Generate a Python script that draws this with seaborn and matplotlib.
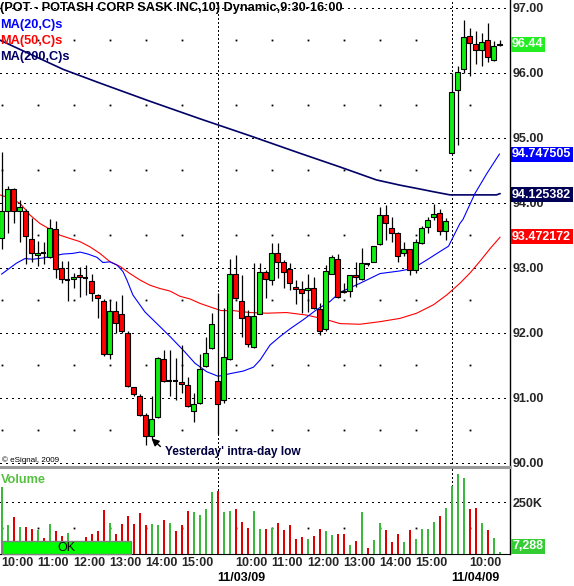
import numpy as np
import pandas as pd
import matplotlib
matplotlib.use("Agg")
import matplotlib.pyplot as plt
import matplotlib.transforms as mtransforms
from matplotlib.patches import Rectangle
from matplotlib.lines import Line2D
import seaborn as sns

# ---------------- data (10-minute bars) ----------------
opens = [93.45, 93.87, 94.21, 93.87, 93.87, 93.44, 93.19, 93.23, 93.16, 93.59,
         92.99, 92.81, 92.82, 92.88, 92.84, 92.80, 92.58, 92.49, 91.67, 92.33,
         92.29, 91.99, 91.16, 91.03, 90.73, 90.41, 90.70, 91.59, 91.25, 91.25,
         91.24, 91.20, 90.80, 90.92, 91.49, 91.76,
         91.25, 90.96, 91.59, 92.90, 92.49, 92.26, 91.78, 92.29, 92.94, 92.81,
         93.23, 93.08, 92.98, 92.70, 92.67, 92.65, 92.68, 92.36, 92.05, 92.91,
         93.14, 92.64, 92.64, 92.89, 92.82, 93.05, 93.09, 93.36, 93.81, 93.61,
         93.53, 93.22, 93.28, 92.96, 93.38, 93.62, 93.78, 93.84, 93.57,
         94.76, 95.73, 96.06, 96.57, 96.44, 96.35, 96.50, 96.19, 96.43]
highs = [94.78, 94.26, 94.22, 94.04, 93.90, 93.77, 93.41, 93.40, 93.75, 93.72,
         93.10, 93.11, 92.92, 93.01, 93.04, 92.91, 92.59, 92.52, 92.50, 92.49,
         92.58, 92.02, 91.17, 91.05, 90.77, 91.03, 91.62, 91.74, 91.74, 91.61,
         91.81, 91.32, 91.08, 91.67, 91.93, 92.30,
         92.61, 92.38, 93.14, 93.20, 92.89, 92.35, 93.07, 93.07, 92.96, 93.38,
         93.38, 93.12, 93.07, 92.81, 92.79, 92.90, 92.85, 92.45, 93.04, 93.20,
         93.21, 92.76, 92.89, 93.09, 93.31, 93.07, 93.34, 93.93, 93.96, 93.78,
         93.55, 93.40, 93.29, 93.44, 93.64, 93.78, 93.98, 93.90, 93.76,
         96.00, 96.10, 96.81, 96.69, 96.64, 96.61, 96.77, 96.48, 96.51]
lows = [93.28, 93.54, 93.69, 93.40, 93.05, 93.09, 93.03, 93.05, 93.15, 92.84,
        92.76, 92.49, 92.69, 92.55, 92.58, 92.49, 92.22, 91.64, 91.59, 92.00,
        91.99, 91.17, 91.02, 90.72, 90.28, 90.36, 90.69, 91.24, 91.02, 90.96,
        91.07, 90.86, 90.62, 90.91, 91.48, 91.75,
        90.44, 90.92, 91.58, 92.52, 91.94, 91.78, 91.77, 92.28, 92.53, 92.73,
        92.84, 92.68, 92.65, 92.44, 92.30, 92.32, 92.37, 91.96, 92.02, 92.90,
        92.54, 92.61, 92.55, 92.71, 92.81, 93.03, 93.08, 93.35, 93.42, 93.40,
        93.08, 93.18, 92.89, 92.92, 93.37, 93.53, 93.74, 93.50, 93.43,
        94.75, 94.88, 95.99, 95.95, 96.13, 96.10, 96.17, 96.18, 96.41]
closes = [93.87, 94.21, 93.87, 93.93, 93.48, 93.22, 93.22, 93.23, 93.61, 92.98,
          92.82, 92.81, 92.85, 92.85, 92.84, 92.61, 92.53, 91.68, 92.33, 92.15,
          92.02, 91.18, 91.05, 90.74, 90.41, 90.68, 91.61, 91.25, 91.25, 91.25,
          91.21, 90.87, 90.91, 91.44, 91.69, 92.13,
          90.91, 91.63, 92.90, 92.53, 92.22, 91.82, 92.25, 92.94, 92.82, 93.23,
          93.09, 92.94, 92.76, 92.67, 92.61, 92.68, 92.38, 92.02, 92.95, 93.16,
          92.55, 92.62, 92.88, 92.85, 93.07, 93.05, 93.33, 93.81, 93.68, 93.54,
          93.18, 93.28, 92.96, 93.40, 93.61, 93.73, 93.83, 93.57, 93.72,
          95.71, 96.01, 96.55, 96.46, 96.35, 96.47, 96.24, 96.41, 96.44]

volume_k = [324, 139, 179, 131, 131, 120, 115, 78, 144, 112,
            87, 103, 50, 55, 80, 96, 112, 212, 151, 96,
            144, 183, 144, 196, 139, 144, 139, 163, 151, 112,
            139, 207, 204, 188, 216, 300,
            304, 204, 208, 216, 155, 123, 208, 120, 120, 127,
            151, 115, 139, 72, 80, 72, 87, 120, 110, 91,
            96, 96, 43, 63, 204, 30, 67, 151, 115, 59,
            96, 59, 115, 72, 120, 120, 155, 183, 220,
            327, 385, 364, 216, 220, 151, 115, 75, 7.288]
volume_dir = ("ggrgrrgrgrrggrrrrrgrrrrrrggrgrrrgggg"
              "rggrrrggrgrrrrrgrrggrrgrgrggrrrgrggggrg"
              "gggrrgrgg")

# moving averages read at sample bars (bar index, value)
ma20_bar = [0.0, 2.5, 3.9, 5.25, 6.9, 8.6, 10.25, 11.9, 13.1, 14.4, 15.9, 16.9,
            18.1, 19.25, 20.25, 20.9, 21.9, 23.9, 25.9, 28.1, 30.3, 32.25, 34.2,
            36.1, 38.1, 40.3, 42.0, 43.1, 44.75, 46.4, 48.1, 50.3, 52.6, 54.75,
            56.4, 59.75, 63.1, 66.4, 68.6, 70.9, 73.1, 74.5, 76.4, 76.9, 78.9,
            80.9, 83.0]
ma20_val = [92.90, 93.07, 93.14, 93.13, 93.15, 93.18, 93.21, 93.22, 93.24, 93.21,
            93.16, 93.08, 93.09, 93.04, 92.94, 92.81, 92.58, 92.32, 92.14, 91.94,
            91.73, 91.53, 91.40, 91.33, 91.37, 91.41, 91.47, 91.58, 91.81, 91.94,
            92.06, 92.20, 92.36, 92.48, 92.62, 92.76, 92.91, 92.95, 92.99, 93.12,
            93.25, 93.33, 93.68, 93.74, 94.14, 94.45, 94.75]
ma50_bar = [-0.25, 1.4, 3.1, 4.75, 6.4, 8.1, 9.75, 11.4, 13.1, 14.75, 16.4, 18.1,
            19.75, 21.4, 23.1, 24.75, 26.4, 28.1, 29.75, 31.4, 33.1, 35.3, 36.6,
            38.6, 41.4, 44.2, 47.5, 50.9, 54.2, 56.4, 59.75, 63.1, 66.4, 69.2,
            72.0, 74.2, 76.4, 78.1, 79.75, 81.4, 83.1]
ma50_val = [94.12, 94.07, 93.99, 93.81, 93.68, 93.59, 93.50, 93.45, 93.40, 93.32,
            93.22, 93.09, 93.02, 92.91, 92.81, 92.73, 92.68, 92.64, 92.56, 92.52,
            92.45, 92.38, 92.34, 92.34, 92.31, 92.30, 92.31, 92.27, 92.20, 92.14,
            92.13, 92.17, 92.22, 92.30, 92.43, 92.58, 92.76, 92.92, 93.10, 93.29,
            93.47]
ma200_bar = [-0.25, 10.3, 16.4, 24.75, 33.1, 41.4, 49.75, 56.4, 62.5, 66.4,
             69.75, 71.9, 74.75, 82.5, 83.1]
ma200_val = [96.50, 96.05, 95.84, 95.56, 95.29, 95.03, 94.76, 94.55, 94.35, 94.27,
             94.21, 94.17, 94.12, 94.12, 94.14]

last_values = {"close": 96.44, "ma20": 94.747505, "ma200": 94.125382, "ma50": 93.472172}

price_ticks = [90, 91, 92, 93, 94, 95, 96, 97]
half_ticks = [90.5, 91.5, 92.5, 93.5, 94.5, 95.5, 96.5]
vol_ticks = [250]
time_tick_bars = [0, 6, 12, 18, 24, 30, 39, 45, 51, 57, 63, 69, 78]
time_tick_labels = ["10:00", "11:00", "12:00", "13:00", "14:00", "15:00",
                    "10:00", "11:00", "12:00", "13:00", "14:00", "15:00", "10:00"]
day_start_bars = [36, 75]
date_labels = ["11/03/09", "11/04/09"]

# ---------------- style ----------------
sns.set_style("white")
plt.rcParams["font.family"] = ["Liberation Sans", "DejaVu Sans"]
plt.rcParams["lines.scale_dashes"] = False

W, H = 574, 586
fig = plt.figure(figsize=(W / 100, H / 100), dpi=100)
fig.patch.set_facecolor("white")

def fx(px):
    return px / W

def fy(py):
    return 1 - py / H

axp = fig.add_axes([0, fy(467), fx(510), 467 / H])
axv = fig.add_axes([0, fy(554), fx(510), 85 / H])

n = len(opens)
x = np.arange(n)
df = pd.DataFrame({"x": x, "open": opens, "high": highs, "low": lows,
                   "close": closes, "vol": volume_k, "dir": list(volume_dir)})

GREEN = "#11EE11"
RED = "#FF0000"
DOT_H = (0, (1.1, 3.2))   # ~1.5 px on, ~4.5 px off (6 px period)
DOT_V = (0, (1.1, 1.8))   # ~4 px period

for ax in (axp, axv):
    ax.set_facecolor("white")
    ax.set_xlim(-0.25, 84.75)
    for s in ("top", "left", "bottom"):
        ax.spines[s].set_visible(False)
    ax.spines["right"].set_color("black")
    ax.spines["right"].set_linewidth(1.0)
    ax.yaxis.tick_right()
    ax.grid(False)

axp.set_ylim(89.934, 97.118)
axv.set_ylim(0, 408.7)
axv.spines["bottom"].set_visible(True)
axv.spines["bottom"].set_color("black")
axv.spines["bottom"].set_linewidth(0.8)

# grid: whole-dollar dotted lines, half-dollar sparse dots, day separators
for v in price_ticks:
    axp.axhline(v, color="black", lw=0.8, ls=DOT_H, zorder=0.5, antialiased=False)
for v in vol_ticks:
    axv.axhline(v, color="black", lw=0.8, ls=DOT_H, zorder=0.5, antialiased=False)
gx, gy = np.meshgrid(time_tick_bars, half_ticks)
axp.plot(gx.ravel(), gy.ravel(), ls="none", marker="s", ms=1.3, mew=0,
         color="black", zorder=0.5)
axv.plot(time_tick_bars, [125] * len(time_tick_bars), ls="none", marker="s", ms=1.3,
         mew=0, color="black", zorder=0.5)
for d in day_start_bars:
    for ax in (axp, axv):
        ax.axvline(d, color="black", lw=0.8, ls=DOT_V, zorder=0.5, antialiased=False)

# moving averages
sns.lineplot(x=ma200_bar, y=ma200_val, ax=axp, color="#000066", lw=1.2,
             estimator=None, sort=False, zorder=2)
sns.lineplot(x=ma50_bar, y=ma50_val, ax=axp, color="#FF0000", lw=0.8,
             estimator=None, sort=False, zorder=2)
sns.lineplot(x=ma20_bar, y=ma20_val, ax=axp, color="#0000FF", lw=0.8,
             estimator=None, sort=False, zorder=2)

# candles
axp.vlines(df["x"], df["low"], df["high"], color="black", lw=0.9, zorder=3)
body = df[df["open"] != df["close"]]
bcol = np.where(body["close"] > body["open"], GREEN, RED)
axp.bar(body["x"], (body["close"] - body["open"]).abs(),
        bottom=np.minimum(body["open"], body["close"]), width=0.68,
        color=bcol, edgecolor="black", linewidth=0.8, zorder=4)
doji = df[df["open"] == df["close"]]
axp.hlines(doji["close"], doji["x"] - 0.36, doji["x"] + 0.36, color="black", lw=1.5, zorder=4)

# volume
vcol = np.where(df["dir"] == "g", "#3CB83C", "#E00000")
axv.vlines(df["x"], 0, df["vol"], colors=vcol, lw=1.44, zorder=3)

# axis labels
axp.set_yticks(price_ticks)
axp.set_yticklabels([f"{v:.2f}" for v in price_ticks])
axp.tick_params(axis="y", length=0, pad=2, labelsize=9)
axp.set_xticks([])
axv.set_yticks(vol_ticks)
axv.set_yticklabels(["250K"])
axv.tick_params(axis="y", length=0, pad=2, labelsize=9)
axv.set_xticks(time_tick_bars)
axv.set_xticklabels(time_tick_labels)
axv.set_xticks(day_start_bars, minor=True)
axv.tick_params(axis="x", which="major", length=0, pad=2.5, labelsize=9)
axv.tick_params(axis="x", which="minor", length=3, width=0.8, color="black", direction="out")
for lab in axv.get_xticklabels():
    lab.set_horizontalalignment("left")
    lab.set_fontweight("bold")
for lab in axp.get_yticklabels() + axv.get_yticklabels():
    lab.set_fontweight("bold")

trans_v = mtransforms.blended_transform_factory(axv.transData, axv.transAxes)
for d, lab in zip(day_start_bars, date_labels):
    axv.text(d - 0.1, -0.28, lab, transform=trans_v, ha="left", va="center",
             fontsize=9, fontweight="bold", color="black")

# value boxes on the right axis
trans_p = mtransforms.blended_transform_factory(axp.transAxes, axp.transData)
boxes = [("close", "96.44", "#22EE22"), ("ma20", "94.747505", "#0000FF"),
         ("ma200", "94.125382", "#000055"), ("ma50", "93.472172", "#FF0000")]
for key, txt, col in boxes:
    axp.text(1.004, last_values[key], txt, transform=trans_p, ha="left", va="center",
             fontsize=9, fontweight="bold", color="white", clip_on=False, zorder=10,
             bbox=dict(boxstyle="square,pad=0.12", facecolor=col, edgecolor="none"))
trans_vv = mtransforms.blended_transform_factory(axv.transAxes, axv.transData)
axv.text(1.004, volume_k[-1], f"{volume_k[-1] * 1000:,.0f}", transform=trans_vv,
         ha="left", va="bottom", fontsize=9, fontweight="bold", color="white",
         clip_on=False, zorder=10,
         bbox=dict(boxstyle="square,pad=0.12", facecolor="#33CC33", edgecolor="none"))

# header texts
fig.text(fx(0), fy(8), "(POT - POTASH CORP SASK INC,10) Dynamic,9:30-16:00",
         ha="left", va="center", fontsize=9.2, fontweight="bold", color="black")
fig.text(fx(0), fy(25), "MA(20,C)s", ha="left", va="center", fontsize=9.2,
         fontweight="bold", color="#0000FF")
fig.text(fx(0), fy(41), "MA(50,C)s", ha="left", va="center", fontsize=9.2,
         fontweight="bold", color="#FF0000")
fig.text(fx(0), fy(57), "MA(200,C)s", ha="left", va="center", fontsize=9.2,
         fontweight="bold", color="#000066")
fig.text(fx(2), fy(460), "\u00a9 eSignal, 2009", ha="left", va="center",
         fontsize=5.8, color="black")
fig.text(fx(1), fy(480), "Volume", ha="left", va="center", fontsize=9.2,
         fontweight="bold", color="#55C040")

# annotation
axp.annotate("Yesterday' intra-day low", xy=(25.0, 90.375), xytext=(27.2, 90.17),
             ha="left", va="center", fontsize=8.6, fontweight="bold", color="#000040",
             arrowprops=dict(arrowstyle="-|>", color="black", lw=1.0, mutation_scale=11,
                             shrinkA=1, shrinkB=0, relpos=(0, 0.6)), zorder=6)

# panel separator and OK button
fig.add_artist(Line2D([0, fx(510)], [fy(467), fy(467)], transform=fig.transFigure,
                      color="#9A9A9A", lw=2.2))
fig.add_artist(Rectangle((fx(2), fy(554)), fx(129), 13 / H, transform=fig.transFigure,
                         facecolor="#00FF00", edgecolor="#808080", lw=1.0, zorder=8))
fig.text(fx(66), fy(548), "OK", ha="center", va="center", fontsize=9, color="black", zorder=9)

fig.savefig("out.png", dpi=100, facecolor="white")
